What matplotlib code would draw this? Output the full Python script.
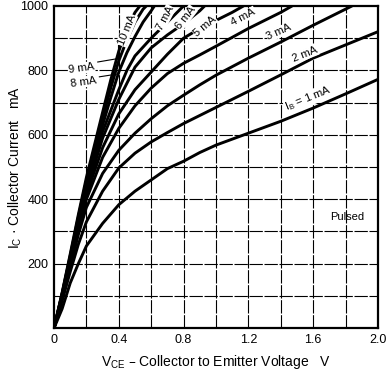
import matplotlib
matplotlib.use("Agg")
import matplotlib.pyplot as plt

plt.rcParams['font.family'] = ['Liberation Sans', 'DejaVu Sans']

# Collector characteristics: V_CE (V) and I_C (mA) for each base current
curves = {
    "1 mA": ([0, 0.05, 0.1, 0.15, 0.2, 0.3, 0.4, 0.5, 0.6, 0.7, 0.8, 0.9, 1.0, 1.2, 1.4, 1.6, 1.8, 2.0],
             [0, 60, 140, 200, 255, 325, 383, 425, 460, 495, 518, 545, 568, 605, 642, 683, 727, 772]),
    "2 mA": ([0, 0.05, 0.1, 0.15, 0.2, 0.3, 0.4, 0.5, 0.6, 0.7, 0.8, 0.9, 1.0, 1.2, 1.4, 1.6, 1.8, 2.0],
             [0, 85, 175, 260, 330, 425, 497, 543, 578, 607, 635, 660, 685, 735, 786, 838, 879, 920]),
    "3 mA": ([0, 0.05, 0.1, 0.15, 0.2, 0.3, 0.4, 0.5, 0.6, 0.7, 0.8, 0.9, 1.0, 1.2, 1.4, 1.6, 1.8, 1.84],
             [0, 90, 190, 290, 375, 480, 552, 605, 650, 690, 723, 755, 785, 838, 888, 940, 990, 1000]),
    "4 mA": ([0, 0.05, 0.1, 0.15, 0.2, 0.3, 0.4, 0.5, 0.6, 0.7, 0.8, 0.9, 1.0, 1.2, 1.4, 1.47],
             [0, 95, 200, 305, 400, 530, 620, 690, 745, 790, 822, 848, 875, 930, 980, 1000]),
    "5 mA": ([0, 0.05, 0.1, 0.15, 0.2, 0.3, 0.4, 0.5, 0.6, 0.7, 0.8, 0.9, 1.0, 1.1, 1.17],
             [0, 100, 205, 315, 415, 560, 665, 740, 795, 850, 900, 930, 955, 980, 1000]),
    "6 mA": ([0, 0.05, 0.1, 0.15, 0.2, 0.3, 0.4, 0.5, 0.6, 0.7, 0.8, 0.9, 0.93],
             [0, 102, 210, 322, 425, 590, 710, 810, 870, 910, 945, 985, 1000]),
    "7 mA": ([0, 0.05, 0.1, 0.15, 0.2, 0.3, 0.4, 0.45, 0.5, 0.6, 0.7, 0.8],
             [0, 104, 215, 330, 435, 610, 740, 800, 845, 900, 950, 1000]),
    "8 mA": ([0, 0.05, 0.1, 0.15, 0.2, 0.3, 0.35, 0.4, 0.45, 0.5, 0.55, 0.6, 0.62],
             [0, 106, 220, 338, 448, 630, 715, 795, 855, 905, 950, 985, 1000]),
    "9 mA": ([0, 0.05, 0.1, 0.15, 0.2, 0.3, 0.35, 0.4, 0.45, 0.5, 0.55, 0.57],
             [0, 108, 225, 345, 458, 650, 745, 830, 895, 950, 990, 1000]),
    "10 mA": ([0, 0.05, 0.1, 0.15, 0.2, 0.3, 0.35, 0.4, 0.45, 0.5, 0.53],
              [0, 110, 230, 352, 468, 670, 770, 860, 930, 980, 1000]),
}

x_ticks = [0, 0.4, 0.8, 1.2, 1.6, 2.0]
x_tick_labels = ["0", "0.4", "0.8", "1.2", "1.6", "2.0"]
y_ticks = [200, 400, 600, 800, 1000]
y_tick_labels = ["200", "400", "600", "800", "1000"]

# Curve labels: text, position (V, mA), rotation
curve_labels = [
    ("10 mA", 0.45, 925, 68),
    ("7 mA", 0.685, 962, 62),
    ("6 mA", 0.81, 962, 52),
    ("5 mA", 0.93, 938, 40),
    ("4 mA", 1.17, 966, 28),
    ("3 mA", 1.39, 919, 24),
    ("2 mA", 1.55, 850, 22),
    (r"I$_\mathregular{B}$ = 1 mA", 1.57, 712, 22),
]
# Leader-lined labels for 9 mA and 8 mA
leader_labels = [
    ("9 mA", 0.17, 807, (0.27, 826), (0.41, 838)),
    ("8 mA", 0.18, 764, (0.28, 780), (0.395, 789)),
]

fig = plt.figure(figsize=(3.86, 3.72), dpi=100)
ax = fig.add_axes([0.14, 0.118, 0.839, 0.866])

ax.set_xlim(0, 2.0)
ax.set_ylim(0, 1000)

# grid every 0.2 V and 100 mA
for gx in [0.2 * i for i in range(1, 10)]:
    ax.axvline(gx, color="black", lw=0.8, ls=(0, (12, 1.5)), zorder=1)
for gy in range(100, 1000, 100):
    ax.axhline(gy, color="black", lw=0.8, ls=(0, (12, 1.5)), zorder=1)

for name, (v, i) in curves.items():
    ax.plot(v, i, color="black", lw=2.1, solid_capstyle="round",
            solid_joinstyle="round", zorder=3, clip_on=True)

for text, xv, yv, rot in curve_labels:
    ax.text(xv, yv, text, fontsize=8, rotation=rot, rotation_mode="anchor",
            ha="center", va="center", zorder=5,
            bbox=dict(boxstyle="square,pad=0.05", fc="white", ec="none"))

for text, xv, yv, p0, p1 in leader_labels:
    ax.text(xv, yv, text, fontsize=8, rotation=8, ha="center", va="center",
            zorder=5, bbox=dict(boxstyle="square,pad=0.05", fc="white", ec="none"))
    ax.plot([p0[0], p1[0]], [p0[1], p1[1]], color="black", lw=0.8, zorder=4)

# leader tick under the 10 mA label
ax.plot([0.395, 0.395], [880, 840], color="black", lw=0.8, zorder=4)

ax.text(1.81, 345, "Pulsed", fontsize=8, ha="center", va="center", zorder=5)

ax.set_xticks(x_ticks)
ax.set_xticklabels(x_tick_labels, fontsize=9)
ax.set_yticks(y_ticks)
ax.set_yticklabels(y_tick_labels, fontsize=9)
ax.tick_params(length=0, pad=4)

for s in ax.spines.values():
    s.set_linewidth(1.6)
    s.set_color("black")

ax.set_xlabel(r"V$_\mathregular{CE}$ – Collector to Emitter Voltage   V", fontsize=10, labelpad=5)
ax.set_ylabel(r"I$_\mathregular{C}$ · Collector Current   mA", fontsize=10)
ax.yaxis.set_label_coords(-0.093, 0.5)

fig.savefig("out.png", dpi=100)
